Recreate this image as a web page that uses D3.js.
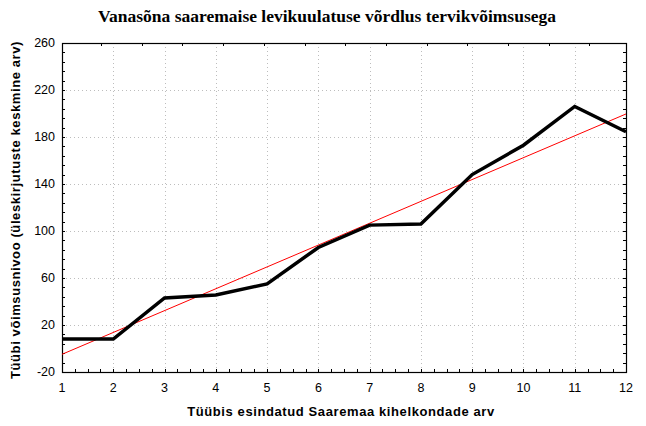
<!DOCTYPE html>
<html><head><meta charset="utf-8">
<script src="https://cdn.jsdelivr.net/npm/d3@7"></script>
<style>body{margin:0;background:#fff}svg{display:block}</style>
</head><body>
<script>
const categories = [1,2,3,4,5,6,7,8,9,10,11,12];
const values = [8,8,43,45.5,55,86,105,106,148,173,206,184.5];
const yTicks = [-20,20,60,100,140,180,220,260];
const xTicks = [1,2,3,4,5,6,7,8,9,10,11,12];
const title = "Vanasõna saaremaise levikuulatuse võrdlus tervikvõimsusega";
const xLabel = "Tüübis esindatud Saaremaa kihelkondade arv";
const yLabel = "Tüübi võimsusnivoo (üleskirjutuste keskmine arv)";

const W=646,H=426;
const m={l:62,r:626,t:43,b:372};
const svg=d3.select("body").append("svg").attr("width",W).attr("height",H);
const x=d3.scaleLinear().domain([1,12]).range([m.l,m.r]);
const y=d3.scaleLinear().domain([-20,260]).range([m.b,m.t]);

// grid
const g=svg.append("g");
g.selectAll(".gx").data(xTicks.slice(1,-1)).join("line")
 .attr("x1",d=>Math.round(x(d))+0.5).attr("x2",d=>Math.round(x(d))+0.5)
 .attr("y1",m.t).attr("y2",m.b).attr("stroke","#bdbdbd").attr("stroke-dasharray","1,3");
g.selectAll(".gy").data(yTicks.slice(1,-1)).join("line")
 .attr("y1",d=>Math.round(y(d))+0.5).attr("y2",d=>Math.round(y(d))+0.5)
 .attr("x1",m.l).attr("x2",m.r).attr("stroke","#bdbdbd").attr("stroke-dasharray","1,3");

// minor ticks
const yMinor=d3.range(-20,260.1,8);
const xMinor=d3.range(1,12.01,0.25);
const tk=svg.append("g").attr("stroke","#000").attr("stroke-width",1);
yMinor.forEach(v=>{const yy=Math.round(y(v))+0.5;
 tk.append("line").attr("x1",m.l).attr("x2",m.l+3).attr("y1",yy).attr("y2",yy);
 tk.append("line").attr("x1",m.r-3).attr("x2",m.r).attr("y1",yy).attr("y2",yy);});
xMinor.forEach(v=>{const xx=Math.round(x(v))+0.5;
 tk.append("line").attr("x1",xx).attr("x2",xx).attr("y1",m.b-3).attr("y2",m.b);});
const xTop=d3.range(1.76,12,0.794);
xTop.forEach(v=>{const xx=Math.round(x(v))+0.5;
 tk.append("line").attr("x1",xx).attr("x2",xx).attr("y1",m.t).attr("y2",m.t+3);});

// frame
svg.append("rect").attr("x",m.l+0.5).attr("y",m.t+0.5).attr("width",m.r-m.l).attr("height",m.b-m.t)
 .attr("fill","none").attr("stroke","#000").attr("stroke-width",1.2);

// regression
const mx=d3.mean(categories), my=d3.mean(values);
const slope=d3.sum(categories,(c,i)=>(c-mx)*(values[i]-my))/d3.sum(categories,c=>(c-mx)**2);
const icpt=my-slope*mx;
svg.append("line").attr("x1",x(1)).attr("x2",x(12)).attr("y1",y(icpt+slope)).attr("y2",y(icpt+slope*12))
 .attr("stroke","#ff0000").attr("stroke-width",1);

// data line
svg.append("path").datum(values.map((v,i)=>[categories[i],v]))
 .attr("d",d3.line().x(d=>x(d[0])).y(d=>y(d[1])))
 .attr("fill","none").attr("stroke","#000").attr("stroke-width",3.5).attr("stroke-linejoin","miter");

// tick labels
svg.append("g").selectAll("text").data(yTicks).join("text")
 .attr("x",55).attr("y",d=>y(d)).attr("dy","0.35em").attr("text-anchor","end")
 .attr("font-family","Liberation Sans, Arial, sans-serif").attr("font-size",12.5).text(d=>d);
svg.append("g").selectAll("text").data(xTicks).join("text")
 .attr("x",d=>x(d)).attr("y",392).attr("text-anchor","middle")
 .attr("font-family","Liberation Sans, Arial, sans-serif").attr("font-size",12.5).text(d=>d);

// titles
svg.append("text").attr("x",327).attr("y",22).attr("text-anchor","middle")
 .attr("font-family","Liberation Serif, Times New Roman, serif").attr("font-weight","bold").attr("font-size",17.5).text(title);
svg.append("text").attr("x",341).attr("y",416).attr("text-anchor","middle")
 .attr("font-family","Liberation Sans, Arial, sans-serif").attr("font-weight","bold").attr("font-size",13)
 .attr("letter-spacing",0.6).text(xLabel);
svg.append("text").attr("transform","translate(20,210) rotate(-90)").attr("text-anchor","middle")
 .attr("font-family","Liberation Sans, Arial, sans-serif").attr("font-weight","bold").attr("font-size",13)
 .attr("letter-spacing",0.6).text(yLabel);
</script>
</body></html>
